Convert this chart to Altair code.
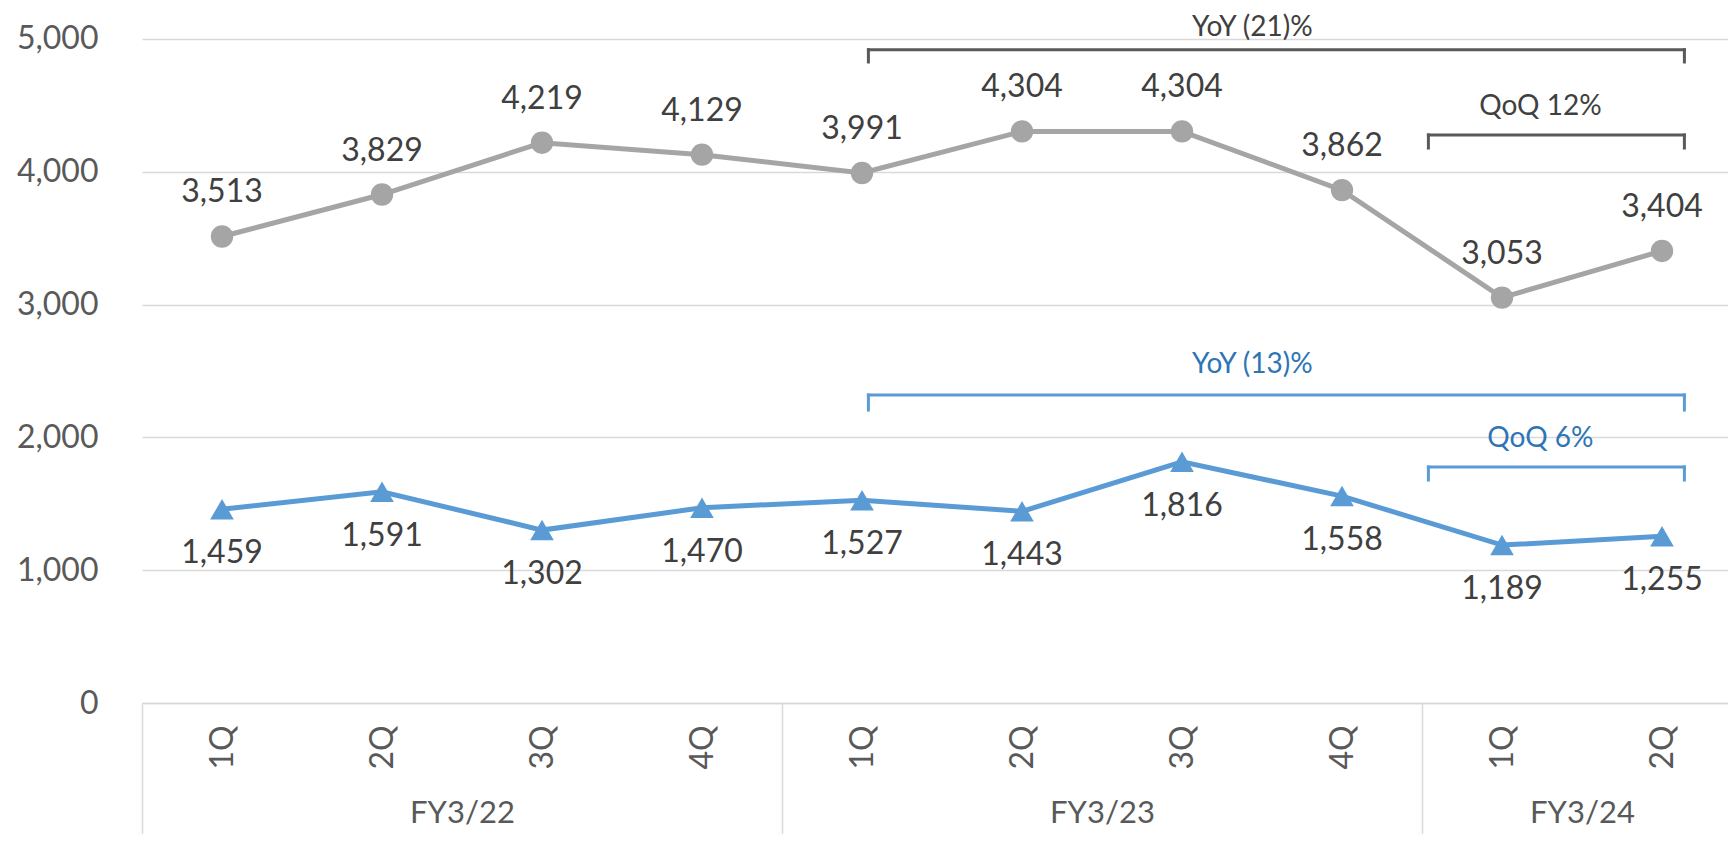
import altair as alt
import pandas as pd

# ---------------- data ----------------
quarters = ["1Q", "2Q", "3Q", "4Q", "1Q", "2Q", "3Q", "4Q", "1Q", "2Q"]
fiscal_years = ["FY3/22"] * 4 + ["FY3/23"] * 4 + ["FY3/24"] * 2
gray_values = [3513, 3829, 4219, 4129, 3991, 4304, 4304, 3862, 3053, 3404]
blue_values = [1459, 1591, 1302, 1470, 1527, 1443, 1816, 1558, 1189, 1255]

group_names = ["FY3/22", "FY3/23", "FY3/24"]
group_centers = [1.5, 5.5, 8.5]
group_dividers = [-0.5, 3.5, 7.5]
y_ticks = [0, 1000, 2000, 3000, 4000, 5000]

# bracket annotations (YoY / QoQ)
ann_text = ["YoY (21)%", "QoQ 12%", "YoY (13)%", "QoQ 6%"]
ann_series = ["gray", "gray", "blue", "blue"]
ann_x_start = [4.04, 7.54, 4.04, 7.54]
ann_x_end = [9.14, 9.14, 9.14, 9.14]
ann_bar_y = [4919, 4277, 2319, 1777]
ann_leg_y = [4827, 4179, 2206, 1679]
ann_text_x = [6.44, 8.24, 6.44, 8.24]
ann_text_y = [5085, 4488, 2545, 1988]

# ---------------- styling ----------------
FONT = "Lato"
GRAY = "#A5A5A5"
BLUE = "#5B9BD5"
GRID = "#D9D9D9"
LABEL = "#404040"
AXIS_LABEL = "#595959"

idx = list(range(len(quarters)))
df = pd.DataFrame({"idx": idx, "quarter": quarters, "fy": fiscal_years,
                   "gray": gray_values, "blue": blue_values})

seg_rows = []
for i in range(len(ann_text)):
    s = ann_series[i]
    seg_rows.append({"x": ann_x_start[i], "x2": ann_x_end[i], "y": ann_bar_y[i], "y2": ann_bar_y[i], "s": s})
    seg_rows.append({"x": ann_x_start[i], "x2": ann_x_start[i], "y": ann_bar_y[i], "y2": ann_leg_y[i], "s": s})
    seg_rows.append({"x": ann_x_end[i], "x2": ann_x_end[i], "y": ann_bar_y[i], "y2": ann_leg_y[i], "s": s})
seg_df = pd.DataFrame(seg_rows)
ann_df = pd.DataFrame({"text": ann_text, "s": ann_series, "x": ann_text_x, "y": ann_text_y})
grp_df = pd.DataFrame({"x": group_centers, "name": group_names})
div_df = pd.DataFrame({"x": group_dividers})

XDOM = [-0.5, 9.4125]
YDOM = [0, 5233.4]
xscale = alt.Scale(domain=XDOM, nice=False, zero=False)
yscale = alt.Scale(domain=YDOM, nice=False, zero=False)

q_expr = "[" + ",".join("'%s'" % q for q in quarters) + "][datum.value]"
g_expr = "{" + ",".join("'%s':'%s'" % (c, n) for c, n in zip(group_centers, group_names)) + "}[datum.value]"

x_main_axis = alt.Axis(values=idx, labelExpr=q_expr, labelAngle=270, labelAlign="center",
                       labelBaseline="middle", labelPadding=44, ticks=False, tickSize=0,
                       domain=True, domainColor=GRID, domainWidth=1.5, grid=False,
                       labelFont=FONT, labelFontSize=32, labelColor=AXIS_LABEL,
                       title=None, orient="bottom")
y_axis = alt.Axis(values=y_ticks, format=",d", grid=True, gridColor=GRID, gridWidth=1.5,
                  domain=False, ticks=False, labelPadding=44, labelFont=FONT,
                  labelFontSize=32, labelColor=AXIS_LABEL, title=None)


def Y(field):
    return alt.Y(field, scale=yscale, axis=y_axis)


def X(field):
    return alt.X(field, scale=xscale, axis=None)


base = alt.Chart(df)

gray_line = base.mark_line(color=GRAY, strokeWidth=5).encode(
    x=alt.X("idx:Q", scale=xscale, axis=x_main_axis), y=Y("gray:Q"))
gray_pts = base.mark_point(shape="circle", filled=True, size=500, color=GRAY, opacity=1).encode(
    x=X("idx:Q"), y=Y("gray:Q"))
gray_lbl = base.mark_text(dy=-44, font=FONT, fontSize=32, color=LABEL).encode(
    x=X("idx:Q"), y=Y("gray:Q"), text=alt.Text("gray:Q", format=",d"))

blue_line = base.mark_line(color=BLUE, strokeWidth=5).encode(x=X("idx:Q"), y=Y("blue:Q"))
blue_pts = base.mark_point(shape="triangle-up", filled=True, size=560, color=BLUE, opacity=1).encode(
    x=X("idx:Q"), y=Y("blue:Q"))
blue_lbl = base.mark_text(dy=44, font=FONT, fontSize=32, color=LABEL).encode(
    x=X("idx:Q"), y=Y("blue:Q"), text=alt.Text("blue:Q", format=",d"))

seg_color = alt.Color("s:N", scale=alt.Scale(domain=["gray", "blue"], range=["#595959", BLUE]), legend=None)
brackets = alt.Chart(seg_df).mark_rule(strokeWidth=3, strokeCap="square").encode(
    x=X("x:Q"), x2="x2:Q", y=Y("y:Q"), y2="y2:Q", color=seg_color)
ann_color = alt.Color("s:N", scale=alt.Scale(domain=["gray", "blue"], range=[LABEL, "#2E75B6"]), legend=None)
ann_lbl = alt.Chart(ann_df).mark_text(font=FONT, fontSize=28).encode(
    x=X("x:Q"), y=Y("y:Q"), text="text:N", fill=ann_color)

dividers = alt.Chart(div_df).mark_rule(opacity=0).encode(
    x=alt.X("x:Q", scale=xscale, axis=alt.Axis(values=group_dividers, labels=False, domain=False,
            ticks=True, tickSize=134, tickColor=GRID, tickWidth=1.5, grid=False,
            title=None, orient="bottom")))
groups = alt.Chart(grp_df).mark_text(opacity=0).encode(
    x=alt.X("x:Q", scale=xscale, axis=alt.Axis(values=group_centers, labelExpr=g_expr,
            ticks=False, tickSize=0, domain=False, grid=False, labelPadding=110,
            labelBaseline="middle", labelFont=FONT, labelFontSize=31,
            labelColor=AXIS_LABEL, title=None, orient="bottom")),
    text="name:N")

chart = alt.layer(
    gray_line, gray_pts, gray_lbl, blue_line, blue_pts, blue_lbl,
    brackets, ann_lbl, dividers, groups
).resolve_axis(x="independent").resolve_scale(color="independent").properties(
    width=1586, height=695,
    padding={"left": 134, "top": 0, "right": 0, "bottom": 131},
    autosize=alt.AutoSizeParams(type="none"),
    background="white",
).configure_view(stroke=None)

chart.save("out.html", embed_options={"renderer": "svg", "actions": False})
